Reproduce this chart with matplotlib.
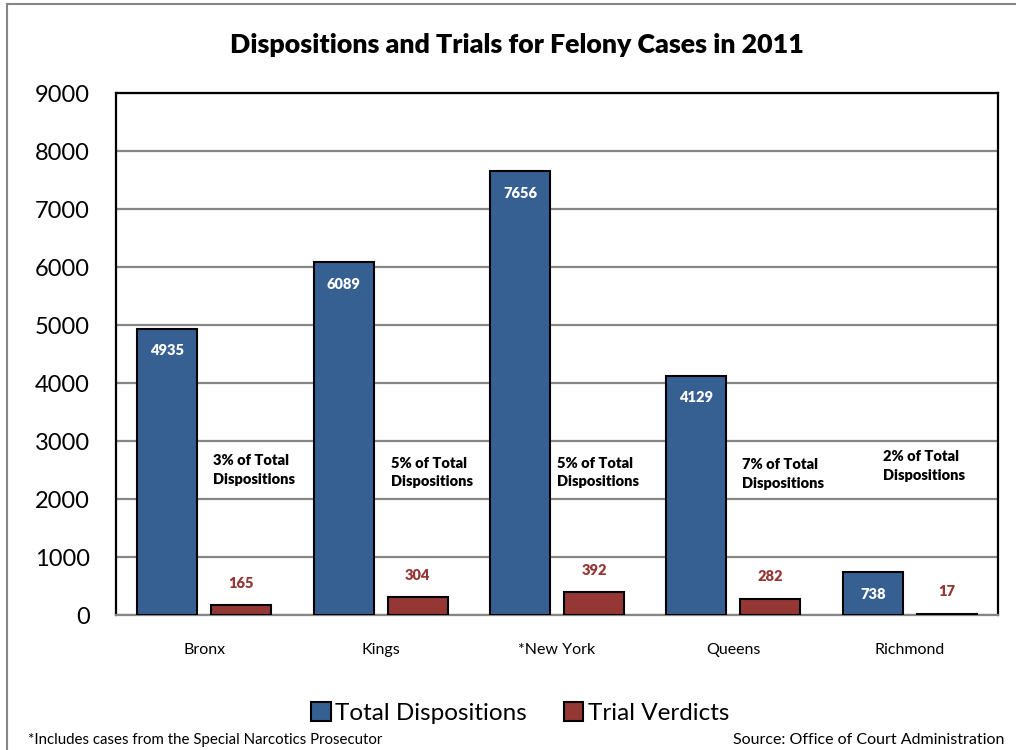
import numpy as np
import matplotlib.pyplot as plt
from matplotlib.lines import Line2D

plt.rcParams['font.family'] = ['Lato', 'DejaVu Sans']

# Dati
contee = ['Bronx', 'Kings', '*New York', 'Queens', 'Richmond']
disposizioni = [4935, 6089, 7656, 4129, 738]
verdetti = [165, 304, 392, 282, 17]
percentuali = ['3%', '5%', '5%', '7%', '2%']
# posizione delle note percentuali (x relativo alla categoria, y in valori)
nota_x = [0.05, 0.06, 0.0, 0.05, -0.15]
nota_y = [2500, 2460, 2460, 2430, 2570]

blu = '#376092'
rosso = '#953735'
grigio = '#868686'

fig = plt.figure(figsize=(10.16, 7.5), dpi=100)
ax = fig.add_axes([116/1016, 1 - 615/750, 882/1016, 522/750])

x = np.arange(len(contee))
w = 0.34
off = 0.21

ax.bar(x - off, disposizioni, w, color=blu, edgecolor='black', linewidth=1.5, label='Total Dispositions', zorder=3)
ax.bar(x + off, verdetti, w, color=rosso, edgecolor='black', linewidth=1.5, label='Trial Verdicts', zorder=3)

for i in range(len(contee)):
    ax.annotate(str(disposizioni[i]), (x[i] - off, disposizioni[i]), xytext=(0, -16),
                textcoords='offset points', ha='center', va='center',
                color='white', fontsize=10.5, fontweight='heavy', zorder=4)
    ax.annotate(str(verdetti[i]), (x[i] + off, verdetti[i]), xytext=(0, 16),
                textcoords='offset points', ha='center', va='center',
                color=rosso, fontsize=10.5, fontweight='heavy', zorder=4)
    ax.text(x[i] + nota_x[i], nota_y[i], percentuali[i] + ' of Total\nDispositions',
            ha='left', va='center', fontsize=10.5, fontweight='heavy', linespacing=1.5, zorder=4)

ax.set_xlim(-0.5, len(contee) - 0.5)
ax.set_ylim(0, 9000)
ax.set_yticks(range(0, 9001, 1000))
ax.set_xticks(x)
ax.set_xticklabels(contee, fontsize=11.5)
ax.tick_params(axis='x', length=0, pad=20)
ax.tick_params(axis='y', length=0, pad=19, labelsize=17)
ax.grid(axis='y', color=grigio, linewidth=1.6, zorder=0)
ax.set_axisbelow(True)
for s in ['top', 'right', 'left']:
    ax.spines[s].set_color('black')
    ax.spines[s].set_linewidth(1.6)
ax.spines['bottom'].set_color(grigio)
ax.spines['bottom'].set_linewidth(1.6)

fig.text(0.509, 1 - 45/750, 'Dispositions and Trials for Felony Cases in 2011',
         ha='center', va='center', fontsize=19.3, fontweight='heavy')

fig.legend(loc='center', bbox_to_anchor=(0.512, 1 - 713/750), ncol=2, frameon=False,
           fontsize=17.5, handlelength=0.8, handleheight=0.8, handletextpad=0.2, columnspacing=1.5)

fig.text(28/1016, 1 - 740/750, '*Includes cases from the Special Narcotics Prosecutor',
         ha='left', va='center', fontsize=10.8)
fig.text(1004/1016, 1 - 740/750, 'Source: Office of Court Administration',
         ha='right', va='center', fontsize=11.5)

# bordo esterno
fig.add_artist(Line2D([7/1016, 7/1016], [0, 1 - 4/750], color=grigio, linewidth=1.5, transform=fig.transFigure))
fig.add_artist(Line2D([7/1016, 1], [1 - 4/750, 1 - 4/750], color=grigio, linewidth=1.5, transform=fig.transFigure))

fig.savefig('out.png', dpi=100)
